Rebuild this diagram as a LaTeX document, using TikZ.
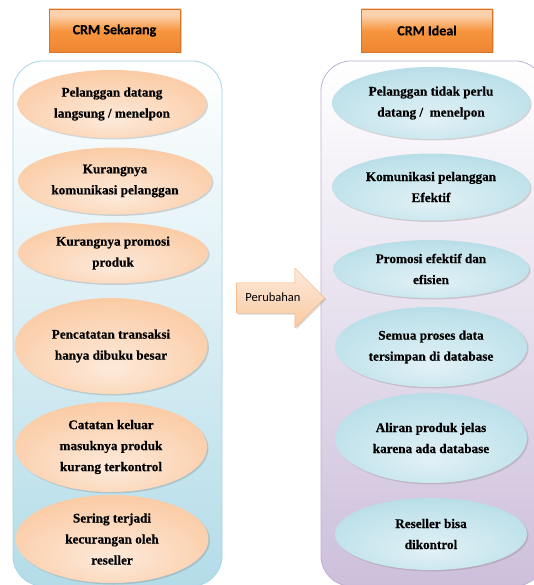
\documentclass[tikz,border=0pt]{standalone}
\usepackage{fontspec}
\setmainfont{Liberation Serif}[BoldFeatures={FakeBold=0.5}]
\newfontfamily\calibrifont{Carlito}[BoldFeatures={FakeBold=0.4}]
\usepackage{tikz}
\usepackage{xcolor}
\usetikzlibrary{shapes.geometric,shapes.arrows,shadows}

\definecolor{peachlight}{HTML}{FDEADB}
\definecolor{peachmid}{HTML}{FBD0AD}
\definecolor{peachdark}{HTML}{F6AE76}
\definecolor{bluelight}{HTML}{E2F1F6}
\definecolor{bluemid}{HTML}{C0E2EB}
\definecolor{bluedark}{HTML}{8CC6D7}
\definecolor{orangepale}{HTML}{FCD2AE}
\definecolor{orangemain}{HTML}{F7963F}
\definecolor{orangedeep}{HTML}{EE8431}
\definecolor{orangeedge}{HTML}{D6742A}
\definecolor{nowbottom}{HTML}{B3DCE8}
\definecolor{nowedge}{HTML}{A4D6E5}
\definecolor{idealbottom}{HTML}{CDBFDB}
\definecolor{idealedge}{HTML}{BFB0D3}
\pgfdeclareradialshading{peach-glow}{\pgfpoint{0bp}{-12bp}}{color(0bp)=(peachlight); color(26bp)=(peachmid); color(58bp)=(peachdark)}
\pgfdeclareradialshading{blue-glow}{\pgfpoint{0bp}{-12bp}}{color(0bp)=(bluelight); color(26bp)=(bluemid); color(58bp)=(bluedark)}
\pgfdeclareverticalshading{title-fill}{100bp}{color(0bp)=(orangedeep); color(25bp)=(orangedeep); color(50bp)=(orangemain); color(68bp)=(orangepale); color(100bp)=(orangepale)}

\tikzset{
    title-box/.style = {rectangle, draw=orangeedge, thin, shading=title-fill, minimum width=131pt, minimum height=43pt, font=\calibrifont\bfseries\fontsize{14}{16}\selectfont, drop shadow={opacity=0.35, shadow xshift=1.5pt, shadow yshift=-1.5pt}},
    panel-now/.style = {rectangle, rounded corners=30pt, draw=nowedge, thick, top color=white, bottom color=nowbottom},
    panel-ideal/.style = {rectangle, rounded corners=30pt, draw=idealedge, thick, top color=white, bottom color=idealbottom},
    oval-now/.style = {ellipse, inner sep=0pt, shading=peach-glow, align=center, font=\bfseries\fontsize{13.2}{21}\selectfont, text=black, drop shadow={opacity=0.3, shadow xshift=1.5pt, shadow yshift=-1.5pt}},
    oval-ideal/.style = {oval-now, shading=blue-glow},
    change-arrow/.style = {single arrow, single arrow head extend=14.5pt, single arrow head indent=0pt, draw=peachdark, thin, top color=peachlight, bottom color=peachmid!80!peachdark, minimum height=88pt, inner ysep=9pt, text height=9pt, text depth=3pt, font=\calibrifont\fontsize{12.5}{14}\selectfont, drop shadow={opacity=0.3, shadow xshift=1.5pt, shadow yshift=-1.5pt}},
}

\begin{document}
\begin{tikzpicture}[x=1pt, y=-1pt]
\useasboundingbox (0,0) rectangle (534,585);

% titles
\node [title-box] (now-title) at (114.5,30.5) {CRM Sekarang};
\node [title-box] (ideal-title) at (427,30.5) {CRM Ideal};

% panels
\node [panel-now, minimum width=209pt, minimum height=525pt] (now-panel) at (117.5,323.5) {};
\node [panel-ideal, minimum width=224pt, minimum height=525pt] (ideal-panel) at (433,323.5) {};

% current situation
\node [oval-now, minimum width=189pt, minimum height=68pt] (now1) at (112,104) {Pelanggan datang\\langsung / menelpon};
\node [oval-now, minimum width=194pt, minimum height=67pt] (now2) at (115,181) {Kurangnya\\komunikasi pelanggan};
\node [oval-now, minimum width=190pt, minimum height=61pt] (now3) at (113,253) {Kurangnya promosi\\produk};
\node [oval-now, minimum width=193pt, minimum height=96pt] (now4) at (111,346) {Pencatatan transaksi\\hanya dibuku besar};
\node [oval-now, minimum width=192pt, minimum height=90pt] (now5) at (111,447) {Catatan keluar\\masuknya produk\\kurang terkontrol};
\node [oval-now, minimum width=193pt, minimum height=88pt] (now6) at (112,539) {Sering terjadi\\kecurangan oleh\\reseller};

% ideal situation
\node [oval-ideal, minimum width=198pt, minimum height=72pt] (ideal1) at (431,103) {Pelanggan tidak perlu\\datang /\ \ menelpon};
\node [oval-ideal, minimum width=198pt, minimum height=67pt] (ideal2) at (431,187) {Komunikasi pelanggan\\Efektif};
\node [oval-ideal, minimum width=196pt, minimum height=58pt] (ideal3) at (431,269) {Promosi efektif dan\\efisien};
\node [oval-ideal, minimum width=192pt, minimum height=80pt] (ideal4) at (431,347) {Semua proses data\\tersimpan di database};
\node [oval-ideal, minimum width=192pt, minimum height=90pt] (ideal5) at (431,438) {Aliran produk jelas\\karena ada database};
\node [oval-ideal, minimum width=192pt, minimum height=72pt] (ideal6) at (431,534) {Reseller bisa\\dikontrol};

% change
\node [change-arrow] (change) at (273,298) {Perubahan};
\end{tikzpicture}
\end{document}
